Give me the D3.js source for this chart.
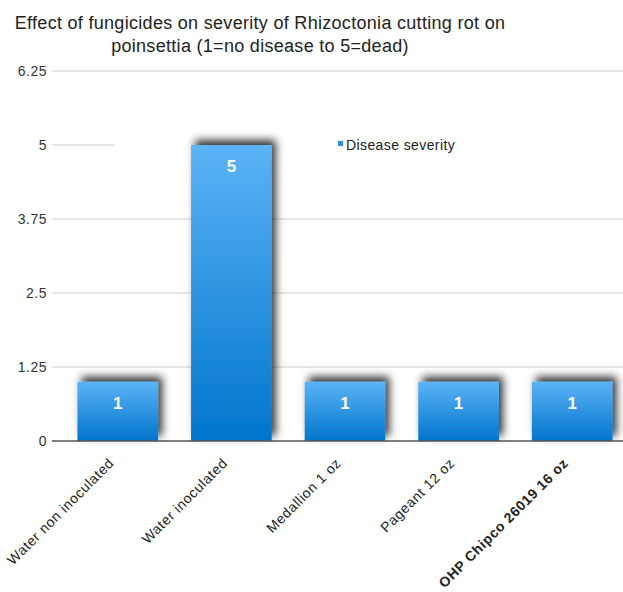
<!DOCTYPE html>
<html>
<head>
<meta charset="utf-8">
<script src="https://cdn.jsdelivr.net/npm/d3@7"></script>
<style>
  body { margin: 0; background: #fff; }
  text { font-family: "Liberation Sans", Arial, sans-serif; }
</style>
</head>
<body>
<div id="chart"></div>
<script>
var categories = ["Water non inoculated", "Water inoculated", "Medallion 1 oz", "Pageant 12 oz", "OHP Chipco 26019 16 oz"];
var severity = [1, 5, 1, 1, 1];
var yTicks = [0, 1.25, 2.5, 3.75, 5, 6.25];
var seriesName = "Disease severity";

var width = 623, height = 592;

var svg = d3.select("#chart").append("svg")
    .attr("width", width)
    .attr("height", height);

var defs = svg.append("defs");
var grad = defs.append("linearGradient")
    .attr("id", "barGrad")
    .attr("x1", 0).attr("y1", 0).attr("x2", 0).attr("y2", 1);
grad.append("stop").attr("offset", "0%").attr("stop-color", "#5cb3f6");
grad.append("stop").attr("offset", "100%").attr("stop-color", "#0075cc");

var shadow = defs.append("filter")
    .attr("id", "shadow")
    .attr("x", "-30%").attr("y", "-30%")
    .attr("width", "160%").attr("height", "160%");
shadow.append("feDropShadow")
    .attr("dx", 4).attr("dy", -5)
    .attr("stdDeviation", 4)
    .attr("flood-color", "#000")
    .attr("flood-opacity", 0.8);

var x = d3.scaleBand()
    .domain(categories)
    .range([61, 629])
    .paddingInner(0.29)
    .paddingOuter(0.145);

var y = d3.scaleLinear()
    .domain([0, 6.25])
    .range([441, 71]);

// title
var title = svg.append("text")
    .attr("text-anchor", "middle")
    .attr("font-size", 18)
    .attr("letter-spacing", 0.3)
    .attr("fill", "#222");
title.append("tspan").attr("x", 260).attr("y", 29)
    .text("Effect of fungicides on severity of Rhizoctonia cutting rot on");
title.append("tspan").attr("x", 260).attr("y", 52)
    .text("poinsettia (1=no disease to 5=dead)");

// gridlines
svg.append("g")
    .selectAll("line")
    .data(yTicks.filter(function (d) { return d > 0; }))
    .enter().append("line")
    .attr("x1", 52).attr("x2", width)
    .attr("y1", function (d) { return y(d); })
    .attr("y2", function (d) { return y(d); })
    .attr("stroke", "#dcdcdc")
    .attr("stroke-width", 1.5);

// tick labels
svg.append("g")
    .selectAll("text")
    .data(yTicks)
    .enter().append("text")
    .attr("x", 47)
    .attr("y", function (d) { return y(d) + 5; })
    .attr("text-anchor", "end")
    .attr("font-size", 14)
    .attr("letter-spacing", 0.5)
    .attr("fill", "#333")
    .text(function (d) { return d; });

// legend background hides part of gridline
svg.append("rect")
    .attr("x", 115).attr("y", 132)
    .attr("width", width - 115).attr("height", 26)
    .attr("fill", "#fff");

// bars
svg.append("g")
    .selectAll("rect")
    .data(severity)
    .enter().append("rect")
    .attr("x", function (d, i) { return x(categories[i]); })
    .attr("y", function (d) { return y(d); })
    .attr("width", x.bandwidth())
    .attr("height", function (d) { return y(0) - y(d); })
    .attr("fill", "url(#barGrad)")
    .attr("filter", "url(#shadow)");

// value labels
svg.append("g")
    .selectAll("text")
    .data(severity)
    .enter().append("text")
    .attr("x", function (d, i) { return x(categories[i]) + x.bandwidth() / 2; })
    .attr("y", function (d) { return y(d) + 27; })
    .attr("text-anchor", "middle")
    .attr("font-size", 17)
    .attr("font-weight", "bold")
    .attr("fill", "#fff")
    .text(function (d) { return d; });

// baseline
svg.append("line")
    .attr("x1", 52).attr("x2", width)
    .attr("y1", y(0)).attr("y2", y(0))
    .attr("stroke", "#555")
    .attr("stroke-width", 1.5);

// category labels
svg.append("g")
    .selectAll("text")
    .data(categories)
    .enter().append("text")
    .attr("transform", function (d) {
        return "translate(" + (x(d) + x.bandwidth() / 2 - 3) + ",464) rotate(-45)";
    })
    .attr("text-anchor", "end")
    .attr("font-size", 14)
    .attr("letter-spacing", 0.6)
    .attr("font-weight", function (d, i) { return i == categories.length - 1 ? "bold" : "normal"; })
    .attr("fill", "#222")
    .text(function (d) { return d; });

// legend
svg.append("rect")
    .attr("x", 338).attr("y", 141)
    .attr("width", 5).attr("height", 5)
    .attr("fill", "#2b8ee6");
svg.append("text")
    .attr("x", 346).attr("y", 150)
    .attr("font-size", 14)
    .attr("letter-spacing", 0.4)
    .attr("fill", "#222")
    .text(seriesName);
</script>
</body>
</html>
